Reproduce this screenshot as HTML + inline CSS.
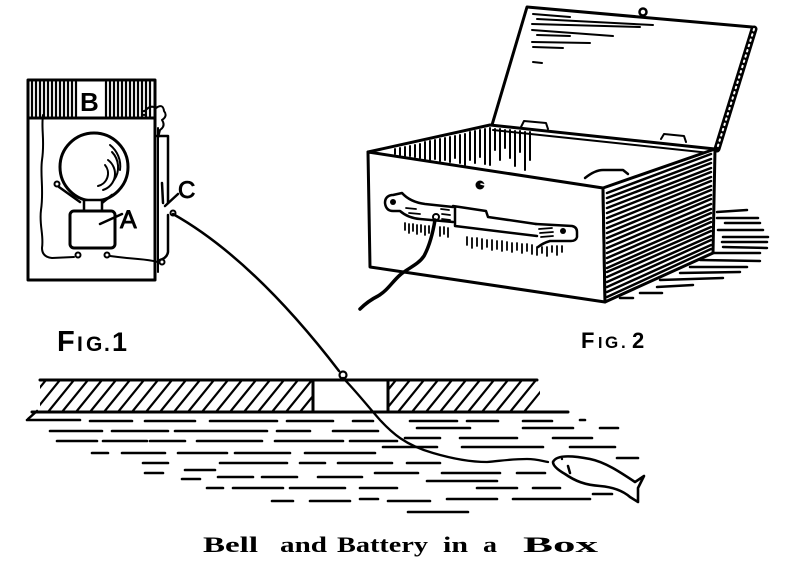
<!DOCTYPE html>
<html><head><meta charset="utf-8"><style>html,body{margin:0;padding:0;background:#fff}svg{display:block}</style></head>
<body>
<svg width="793" height="570" viewBox="0 0 793 570" xmlns="http://www.w3.org/2000/svg" fill="none" stroke="#000" stroke-linecap="round" stroke-linejoin="round">
<defs>
<clipPath id="dl"><rect x="40" y="380" width="273" height="32"/></clipPath>
<clipPath id="dr"><rect x="388" y="380" width="152" height="32"/></clipPath>
</defs>

<!-- ===== FIG 1 ===== -->
<rect x="28" y="80" width="127" height="200" stroke-width="3"/>
<line x1="28" y1="118" x2="155" y2="118" stroke-width="3"/>
<path stroke-width="2.2" d="M32,82V116M36,82V116M40,82V116M44,82V116M48,82V116M52,82V116M56,82V116M60,82V116M64,82V116M68,82V116M72,82V116M76,82V116M106,82V116M110,82V116M114,82V116M118,82V116M122,82V116M126,82V116M130,82V116M134,82V116M138,82V116M142,82V116M146,82V116M150,82V116"/>
<text x="80" y="111" font-family="Liberation Sans, sans-serif" font-weight="bold" font-size="26" fill="#000" stroke="none">B</text>
<line x1="158" y1="128" x2="158" y2="272" stroke-width="2"/>
<!-- top right squiggle -->
<path stroke-width="2" d="M144,112 Q150,104 156,108 Q163,103 164,111 Q168,116 162,120 Q166,126 160,130 L158,138"/>
<circle cx="144" cy="113" r="2" stroke-width="2" fill="#fff"/>
<!-- bracket / switch C -->
<path stroke-width="2.5" d="M157,136 L168,136 L168,203 M168,215 L168,252 Q167,258 160,260"/>
<path stroke-width="2.5" d="M162,183 L163,203 M165,206 L178,194"/>
<text x="178" y="198" font-family="Liberation Sans, sans-serif" font-size="24" fill="#000" stroke="#000" stroke-width="0.9">C</text>
<circle cx="173" cy="213" r="2.5" stroke-width="2" fill="#fff"/>
<!-- left wire -->
<path stroke-width="2" d="M43,115 C41,130 45,140 42,160 C40,175 44,190 41,210 C39,225 44,235 42,248 Q42,257 52,258 L74,257"/>
<circle cx="78" cy="255" r="2.5" stroke-width="2" fill="#fff"/>
<circle cx="107" cy="255" r="2.5" stroke-width="2" fill="#fff"/>
<path stroke-width="2" d="M110,256 Q125,258 138,259 Q150,260 158,262"/>
<circle cx="162" cy="262" r="2.5" stroke-width="2" fill="#fff"/>
<!-- bell -->
<circle cx="94" cy="167" r="34" stroke-width="3"/>
<path stroke-width="2" d="M110,145 A27,27 0 0 1 120,170 M112,152 A22,22 0 0 1 114,180 M108,160 A17,17 0 0 1 103,190 M105,165 A13,13 0 0 1 98,186"/>
<circle cx="57" cy="184" r="2.5" stroke-width="2" fill="#fff"/>
<path stroke-width="2.5" d="M59,187 L80,202 M112,195 L102,203"/>
<rect x="84" y="200" width="18" height="11" stroke-width="2.5" fill="#fff"/>
<rect x="70" y="211" width="45" height="37" rx="4" stroke-width="3" fill="#fff"/>
<line x1="100" y1="224" x2="122" y2="214" stroke-width="2.5"/>
<text x="120" y="228" font-family="Liberation Sans, sans-serif" font-size="25" fill="#000" stroke="#000" stroke-width="0.9">A</text>

<!-- main wire -->
<path stroke-width="2.5" d="M173,214 Q253,259 339,371"/>
<circle cx="343" cy="375" r="3.5" stroke-width="2.2" fill="#fff"/>
<path stroke-width="2.3" d="M343,378 C355,390 365,403 380,420 C392,433 405,445 433,453 C450,458 470,462 487,462 C500,461 510,459 527,459 C537,459 542,461 548,462"/>

<!-- FIG labels -->
<text font-family="Liberation Sans, sans-serif" font-weight="bold" fill="#000" stroke="none"><tspan x="57" y="351" font-size="29">F</tspan><tspan x="77" y="351" font-size="21">I</tspan><tspan x="86" y="351" font-size="21">G</tspan><tspan x="104" y="351" font-size="21">.</tspan><tspan x="112" y="351" font-size="27">1</tspan></text>
<text font-family="Liberation Sans, sans-serif" font-weight="bold" fill="#000" stroke="none"><tspan x="581" y="348" font-size="22">F</tspan><tspan x="598" y="348" font-size="16">I</tspan><tspan x="605" y="348" font-size="17">G</tspan><tspan x="621" y="348" font-size="17">.</tspan><tspan x="632" y="348" font-size="22">2</tspan></text>

<!-- ===== FIG 2 ===== -->
<!-- lid -->
<path stroke-width="3" d="M492,125 L527,7 L752,27"/>
<line x1="754" y1="29" x2="717" y2="149" stroke-width="7"/>
<line x1="754" y1="29" x2="717" y2="149" stroke="#fff" stroke-width="2" stroke-dasharray="1.5 4"/>
<path stroke-width="2" d="M533,14 L570,17 M537,19 L653,25 M532,24 L640,27 M532,30 L613,36 M537,35 L570,36 M532,42 L590,43 M533,47 L563,48 M533,62 L542,63"/>
<circle cx="643" cy="12" r="3.5" stroke-width="2.5" fill="#fff"/>
<!-- rim -->
<path stroke-width="3" d="M368,152 L490,125 L715,149"/>
<path stroke-width="2" d="M493,130 L710,153"/>
<path stroke-width="2" d="M521,127 L524,121 L546,123 L548,129 M661,139 L664,134 L684,136 L686,142"/>
<!-- interior hatching -->
<path stroke-width="2" d="M395,149V154M400,148V155M405,147V156M410,146V156M415,145V157M420,144V158M425,142V159M430,141V160M435,140V159M440,139V161M445,138V160M450,137V162M455,136V158M460,135V163M465,134V165M470,132V160M475,131V163M480,130V157M485,129V164M490,128V165M495,129V150M500,129V160M505,130V148M510,130V158M515,131V166M520,131V152M525,132V170M530,132V160"/>
<!-- battery -->
<path stroke-width="2.5" d="M585,178 Q595,170 603,170 L623,170 L628,174"/>
<!-- front face -->
<path stroke-width="3" fill="#fff" d="M368,152 L603,188 L605,302 L370,267 Z"/>
<!-- right face -->
<path stroke-width="3" fill="#fff" d="M603,188 L715,149 L713,253 L605,302 Z"/>
<path stroke-width="2.5" d="M607,193 L711,154 M607,198 L711,159 M607,203 L711,163 M607,208 L711,168 M607,213 L711,172 M607,218 L711,177 M607,223 L711,181 M607,228 L711,186 M607,233 L711,190 M607,238 L711,195 M607,243 L711,199 M607,248 L711,204 M607,253 L711,209 M607,258 L711,213 M607,263 L711,218 M607,268 L711,222 M607,272 L711,227 M607,277 L711,231 M607,282 L711,236 M607,287 L711,240 M607,292 L711,245 M607,297 L711,249"/>
<!-- shadow lines -->
<path stroke-width="2.5" d="M717,212 L747,210 M717,218 L758,218 M725,223 L760,223 M718,230 L763,230 M723,237 L768,237 M722,242 L767,242 M723,247 L767,248 M713,253 L760,253 M700,260 L760,261 M690,267 L747,267 M680,273 L740,272 M660,280 L723,278 M657,287 L693,285 M640,293 L662,293 M620,298 L633,298"/>
<!-- keyhole -->
<circle cx="480" cy="185" r="4.5" fill="#000" stroke="none"/>
<path d="M481,184 L485,185" stroke="#fff" stroke-width="1.5"/>
<!-- handle -->
<path stroke-width="2.5" d="M392,195 Q385,196 385,203 Q386,211 393,211 L400,211 Q408,218 420,219 L453,222 M393,195 L402,193 Q410,202 425,204 L453,207"/>
<circle cx="393" cy="202" r="3" fill="#000" stroke="none"/>
<path stroke-width="1.8" d="M406,208 L416,209 M409,213 L420,214 M441,209 L449,210 M442,214 L450,215 M442,219 L450,220"/>
<path stroke-width="2.5" d="M453,206 L486,211 L488,217 L536,224 M455,207 L455,226 L537,236"/>
<path stroke-width="2.5" d="M536,224 L572,226 Q577,227 577,232 L577,237 Q576,241 571,241 L550,241 Q543,243 538,247"/>
<circle cx="563" cy="231" r="3" fill="#000" stroke="none"/>
<path stroke-width="1.8" d="M539,229 L552,228 M540,233 L553,232 M541,237 L553,236"/>
<path stroke-width="1.8" d="M405,223V230M409,224V233M413,224V231M417,225V234M421,225V232M425,226V235M429,226V233M440,227V236M444,227V234M448,228V237M467,237V245M472,238V248M477,238V246M482,239V249M487,240V247M492,240V250M497,241V249M502,241V251M507,242V250M512,243V252M517,243V250M522,244V253M527,244V251M532,245V254M537,247V255M542,247V253M547,247V256M552,246V252M557,246V255M562,246V252"/>
<!-- box wire -->
<circle cx="436" cy="217" r="3" stroke-width="2" fill="#fff"/>
<path stroke-width="3.5" d="M435,220 C433,232 430,245 424,256 C418,265 408,268 400,275 C392,282 388,290 378,296 C370,300 365,304 360,309"/>

<!-- ===== DOCK ===== -->
<path stroke-width="3" d="M40,380 L537,380 M32,412 L568,412 M313,380 V412 M388,380 V412"/>
<g clip-path="url(#dl)" stroke-width="2.2">
<path d="M20,412l26,-32M34,412l26,-32M48,412l26,-32M62,412l26,-32M76,412l26,-32M90,412l26,-32M104,412l26,-32M118,412l26,-32M132,412l26,-32M146,412l26,-32M160,412l26,-32M174,412l26,-32M188,412l26,-32M202,412l26,-32M216,412l26,-32M230,412l26,-32M244,412l26,-32M258,412l26,-32M272,412l26,-32M286,412l26,-32M300,412l26,-32"/>
</g>
<g clip-path="url(#dr)" stroke-width="2.2">
<path d="M370,412l26,-32M384,412l26,-32M398,412l26,-32M412,412l26,-32M426,412l26,-32M440,412l26,-32M454,412l26,-32M468,412l26,-32M482,412l26,-32M496,412l26,-32M510,412l26,-32M524,412l26,-32"/>
</g>
<path stroke-width="2.5" d="M37,411 L28,419"/>

<!-- ===== WATER ===== -->
<path stroke-width="2.6" d="
M27,420H80 M90,421H132 M145,421H195 M210,421H277 M287,421H333 M353,421H373 M410,421H457 M467,421H498 M523,421H552 M580,420H585
M50,431H102 M112,431H168 M175,431H267 M277,431H310 M333,431H378 M417,428H470 M523,428H573 M600,428H618
M57,441H97 M103,441H147 M150,441H185 M197,441H262 M275,441H343 M350,441H397 M405,438H440 M460,438H517 M553,438H592
M92,453H108 M122,453H165 M178,453H227 M235,453H290 M305,453H375 M383,447H437 M462,447H543 M570,447H615
M143,463H168 M220,463H287 M300,463H325 M338,463H392 M407,463H440 M617,458H638
M185,470H215 M145,473H163 M375,473H418 M442,473H500 M517,473H545
M218,477H253 M262,477H297 M318,477H362 M182,479H200 M427,481H497
M207,488H223 M233,488H283 M290,488H345 M360,488H397 M477,488H517 M533,488H560
M593,494H612 M360,499H378 M447,499H497 M513,499H590
M272,501H293 M310,501H350 M388,501H430 M408,512H468"/>

<!-- fish -->
<path stroke-width="2.6" fill="#fff" d="M553,462 C556,455 570,455 590,459 C605,462 620,472 635,482 L644,476 L638,488 L638,502 L630,497 C622,490 612,487 600,486 C585,485 575,481 565,474 C558,470 553,466 553,462 Z"/>
<circle cx="562" cy="459" r="1.2" fill="#000" stroke="none"/>
<path stroke-width="2.5" d="M568,466 L570,473"/>

<!-- caption -->
<g font-family="Liberation Serif, serif" font-weight="bold" font-size="22" fill="#000" stroke="none">
<text x="203" y="552" textLength="55" lengthAdjust="spacingAndGlyphs">Bell</text>
<text x="280" y="552" textLength="47" lengthAdjust="spacingAndGlyphs">and</text>
<text x="337" y="552" textLength="91" lengthAdjust="spacingAndGlyphs">Battery</text>
<text x="443" y="552" textLength="25" lengthAdjust="spacingAndGlyphs">in</text>
<text x="483" y="552" textLength="14" lengthAdjust="spacingAndGlyphs">a</text>
<text x="523" y="552" textLength="75" lengthAdjust="spacingAndGlyphs">Box</text>
</g>
</svg>
</body></html>
